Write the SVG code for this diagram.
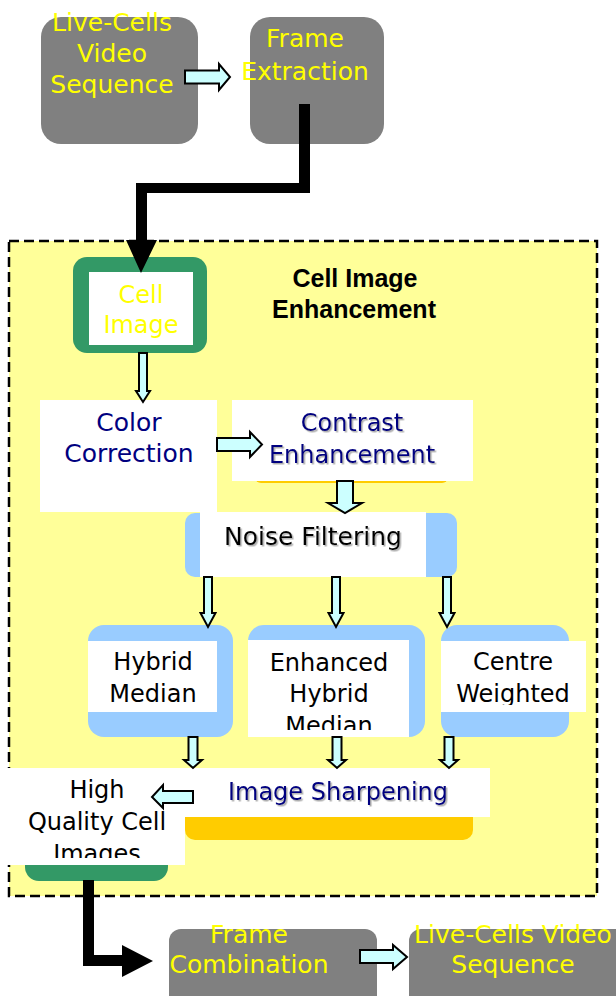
<svg xmlns="http://www.w3.org/2000/svg" width="616" height="996" viewBox="0 0 616 996">
<defs>
<style>
.t{font-family:"DejaVu Sans","Liberation Sans",sans-serif;font-size:24px;text-anchor:middle}
.g{font-size:25px}
.y{fill:#ffff00}
.n{fill:#000080}
.k{fill:#000000}
.b{font-family:"Liberation Sans",Arial,sans-serif;font-weight:bold;font-size:25px;text-anchor:middle;fill:#000}
.gray{fill:#808080}
.grn{fill:#339966}
.blu{fill:#99ccff}
.org{fill:#ffcc00}
.wht{fill:#ffffff}
.ha{fill:#ccffff;stroke:#000;stroke-width:2;stroke-linejoin:miter}
.bk{fill:#000}
</style>
<filter id="sh" x="-10%" y="-20%" width="130%" height="150%">
<feDropShadow dx="1.5" dy="1.5" stdDeviation="0.6" flood-color="#777777" flood-opacity="0.6"/>
</filter>
<clipPath id="cEnh"><rect x="248" y="640" width="161" height="90"/></clipPath>
<clipPath id="cCen"><rect x="441" y="641" width="145" height="64"/></clipPath>
<clipPath id="cHq"><rect x="7" y="768" width="178" height="90"/></clipPath>
</defs>

<rect id="enhancement-area" x="9" y="241" width="588" height="655" fill="#ffff99" stroke="#000" stroke-width="2.5" stroke-dasharray="10 5"/>

<g id="live-cells-in">
<rect class="gray" x="41" y="17" width="157" height="127" rx="20"/>
<text class="t g y" x="112" y="31">Live-Cells</text>
<text class="t g y" x="112" y="62">Video</text>
<text class="t g y" x="112" y="93">Sequence</text>
</g>

<g id="frame-extraction">
<rect class="gray" x="250" y="17" width="134" height="127" rx="20"/>
<text class="t g y" x="305" y="47">Frame</text>
<text class="t g y" x="305" y="80">Extraction</text>
</g>

<g id="title">
<text class="b" x="355" y="287">Cell Image</text>
<text class="b" x="354" y="318">Enhancement</text>
</g>

<g id="cell-image">
<rect class="grn" x="73" y="257" width="134" height="96" rx="14"/>
<rect class="wht" x="89" y="272" width="104" height="73"/>
<text class="t y" x="141" y="303">Cell</text>
<text class="t y" x="141" y="333">Image</text>
</g>

<g id="color-correction">
<rect class="wht" x="40" y="400" width="177" height="112"/>
<text class="t g n" x="129" y="431">Color</text>
<text class="t g n" x="129" y="462">Correction</text>
</g>

<g id="contrast-enhancement">
<rect class="org" x="255" y="468" width="193" height="15" rx="6"/>
<rect class="wht" x="232" y="400" width="241" height="81"/>
<text class="t n" x="352" y="431" filter="url(#sh)">Contrast</text>
<text class="t n" x="352" y="463" filter="url(#sh)">Enhancement</text>
</g>

<g id="noise-filtering">
<rect class="blu" x="185" y="513" width="272" height="64" rx="10"/>
<rect class="wht" x="200" y="512" width="226" height="65"/>
<text class="t g k" x="313" y="545" filter="url(#sh)">Noise Filtering</text>
</g>

<g id="hybrid-median">
<rect class="blu" x="88" y="625" width="145" height="112" rx="16"/>
<rect class="wht" x="88" y="641" width="129" height="71"/>
<text class="t k" x="153" y="670">Hybrid</text>
<text class="t k" x="153" y="702">Median</text>
</g>

<g id="enhanced-hybrid-median">
<rect class="blu" x="248" y="625" width="177" height="112" rx="16"/>
<rect class="wht" x="248" y="640" width="161" height="97"/>
<g clip-path="url(#cEnh)">
<text class="t k" x="329" y="671">Enhanced</text>
<text class="t k" x="329" y="702">Hybrid</text>
<text class="t k" x="329" y="734">Median</text>
</g>
</g>

<g id="centre-weighted">
<rect class="blu" x="441" y="625" width="128" height="112" rx="16"/>
<rect class="wht" x="441" y="641" width="145" height="71"/>
<g clip-path="url(#cCen)">
<text class="t k" x="513" y="670">Centre</text>
<text class="t k" x="513" y="702">Weighted</text>
</g>
</g>

<g id="image-sharpening">
<rect class="org" x="185" y="790" width="288" height="50" rx="10"/>
<rect class="wht" x="185" y="768" width="305" height="49"/>
<text class="t n" x="338" y="800" filter="url(#sh)">Image Sharpening</text>
</g>

<g id="high-quality">
<rect class="grn" x="25" y="830" width="143" height="51" rx="14"/>
<rect class="wht" x="7" y="768" width="178" height="97"/>
<g clip-path="url(#cHq)">
<text class="t k" x="97" y="798">High</text>
<text class="t k" x="97" y="830">Quality Cell</text>
<text class="t k" x="97" y="862">Images</text>
</g>
</g>

<g id="frame-combination">
<rect class="gray" x="169" y="929" width="208" height="80" rx="12"/>
<text class="t g y" x="249" y="943">Frame</text>
<text class="t g y" x="249" y="973">Combination</text>
</g>

<g id="live-cells-out">
<rect class="gray" x="409" y="929" width="220" height="80" rx="12"/>
<text class="t g y" x="513" y="943">Live-Cells Video</text>
<text class="t g y" x="513" y="973">Sequence</text>
</g>

<g id="connectors">
<polygon class="bk" points="299,104 310,104 310,193 147,193 147,240 157,240 141,273 126,240 136,240 136,183 299,183"/>
<polygon class="bk" points="83,880 94,880 94,955 122,955 122,945 153,961 122,977 122,966 83,966"/>
<polygon class="ha" points="185,70.5 219,70.5 219,64 230,77 219,90 219,83.5 185,83.5"/>
<polygon class="ha" points="139,353 147,353 147,391 150,391 143,402 136,391 139,391"/>
<polygon class="ha" points="217,438 250,438 250,432 262,444.5 250,457 250,451 217,451"/>
<polygon class="ha" points="337,481 353,481 353,503 362,503 345,513 328,503 337,503"/>
<polygon class="ha" points="204,577 212,577 212,613 215.5,613 208,627 200.5,613 204,613"/>
<polygon class="ha" points="332,577 340,577 340,613 343.5,613 336,627 328.5,613 332,613"/>
<polygon class="ha" points="443,577 451,577 451,613 454.5,613 447,627 439.5,613 443,613"/>
<polygon class="ha" points="188.5,737 197.5,737 197.5,760 202,760 193,768 184,760 188.5,760"/>
<polygon class="ha" points="332.5,737 341.5,737 341.5,760 346,760 337,768 328,760 332.5,760"/>
<polygon class="ha" points="444.5,737 453.5,737 453.5,760 458,760 449,768 440,760 444.5,760"/>
<polygon class="ha" points="193,791 163,791 163,785 152,797 163,808 163,803 193,803"/>
<polygon class="ha" points="360,950 393,950 393,945 407,957 393,969 393,963 360,963"/>
</g>
</svg>
